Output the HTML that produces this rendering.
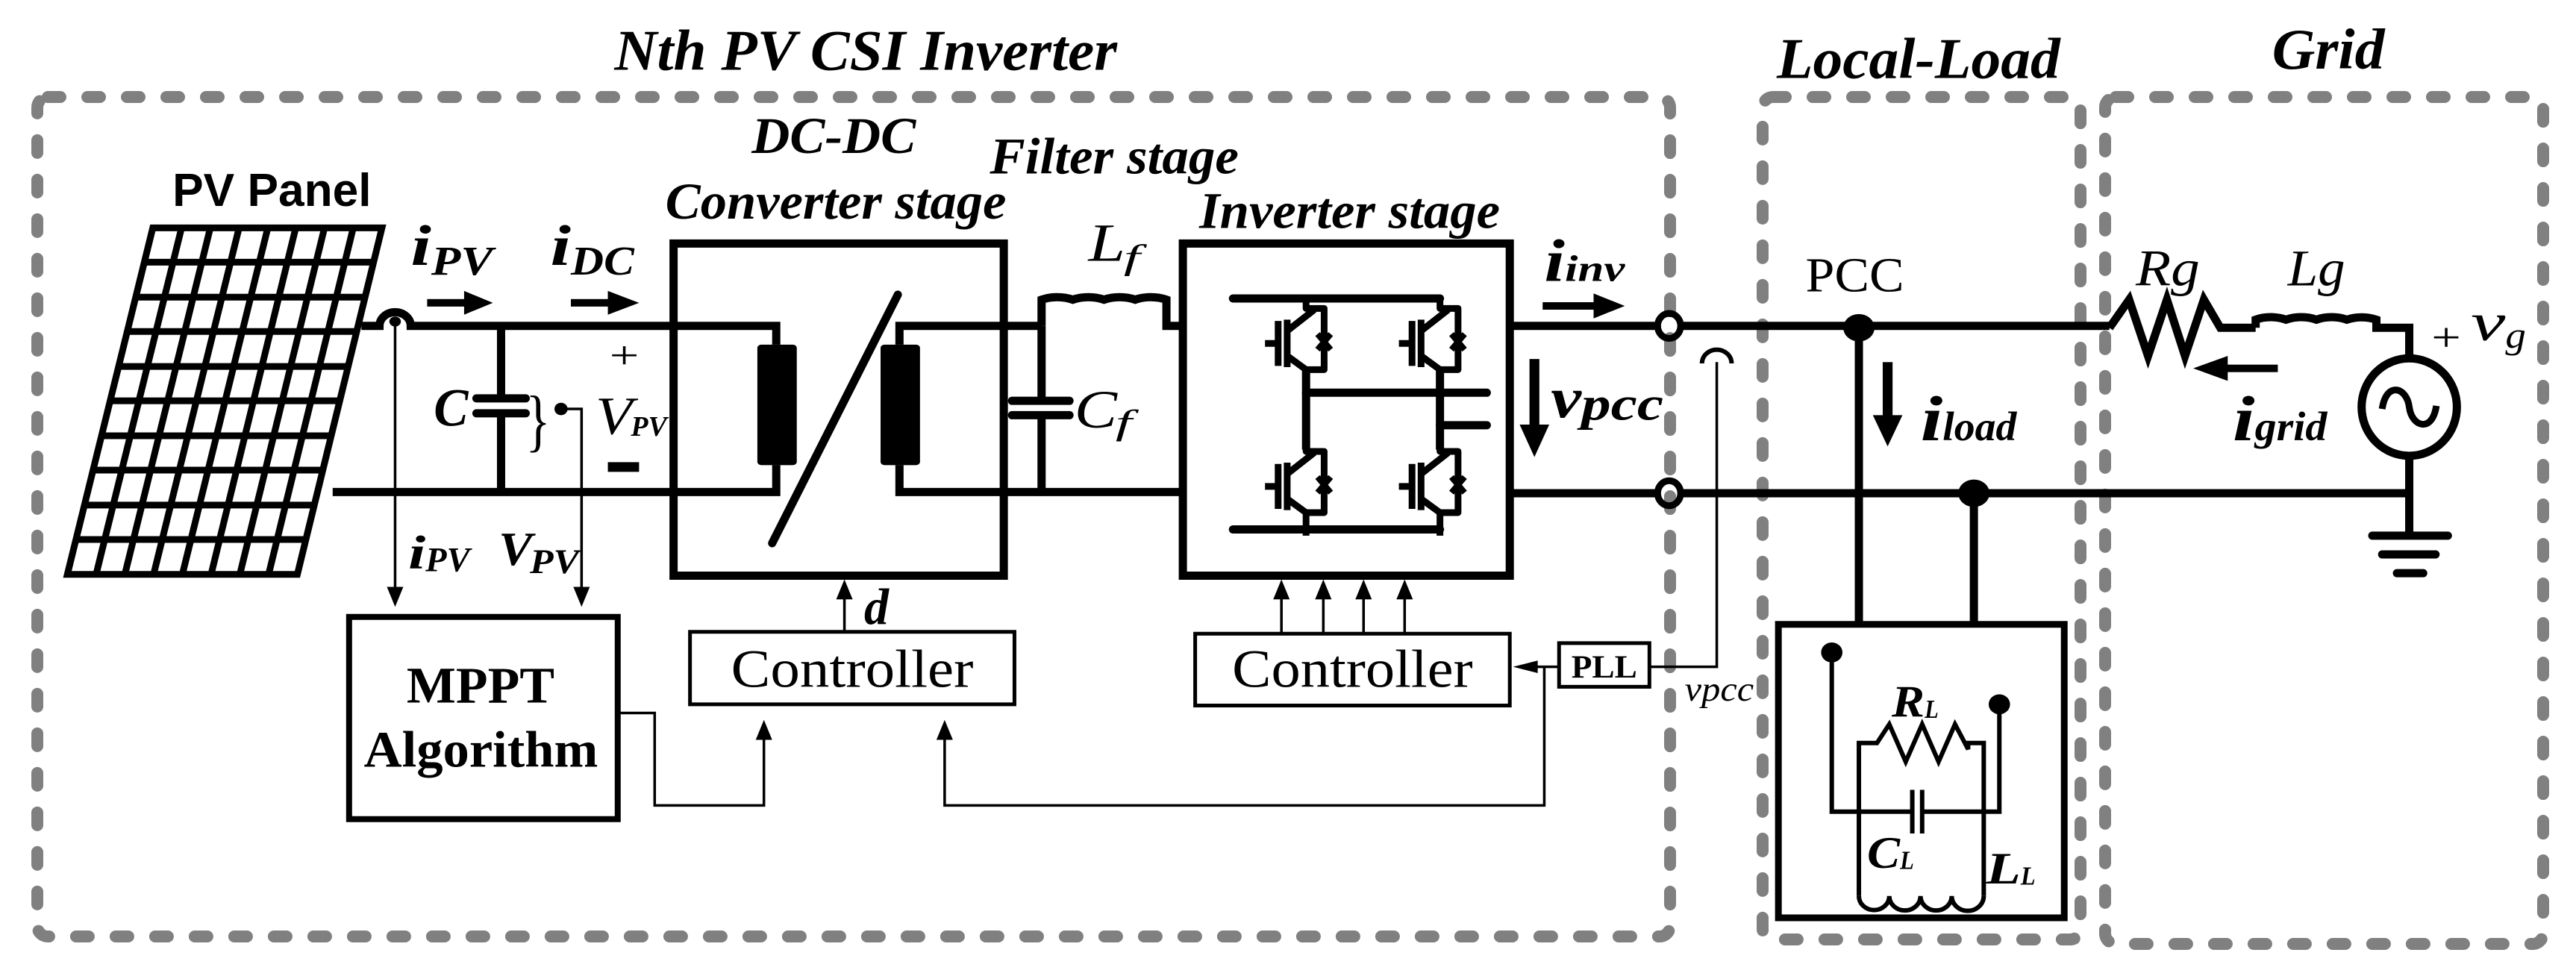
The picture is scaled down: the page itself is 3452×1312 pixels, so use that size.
<!DOCTYPE html>
<html><head><meta charset="utf-8"><style>
html,body{margin:0;padding:0;background:#fff;}
.w{position:relative;width:3452px;height:1312px;overflow:hidden}
svg{position:absolute;left:0;top:0}
.s *{vector-effect:non-scaling-stroke}
text{font-family:"Liberation Serif",serif}
.bi{font-weight:bold;font-style:italic}
.it{font-style:italic}
</style></head><body><div class="w">
<svg width="3452" height="1312" viewBox="0 0 3452 1312">
<g fill="none" stroke="#808080" stroke-width="16" stroke-linecap="round" stroke-dasharray="17 36">
<rect x="50" y="130" width="2188" height="1125" rx="14"/>
<rect x="2362" y="130" width="426" height="1129" rx="14"/>
<rect x="2821" y="130" width="587" height="1135" rx="14"/>
</g>
</svg>
<svg class="s" width="3452" height="1312" viewBox="0 0 3136 1568" preserveAspectRatio="none">
<g fill="none" stroke="#000" stroke-width="11" stroke-linejoin="miter">
<!-- PV panel -->
<g stroke-width="9">
<polygon points="186,365 465,365 362,920 82,920"/>
<line x1="221" y1="365" x2="117" y2="920"/><line x1="256" y1="365" x2="152" y2="920"/>
<line x1="291" y1="365" x2="187" y2="920"/><line x1="326" y1="365" x2="222" y2="920"/>
<line x1="360" y1="365" x2="257" y2="920"/><line x1="395" y1="365" x2="292" y2="920"/>
<line x1="430" y1="365" x2="327" y2="920"/>
<line x1="176" y1="420" x2="455" y2="420"/><line x1="166" y1="476" x2="445" y2="476"/>
<line x1="155" y1="531" x2="434" y2="531"/><line x1="145" y1="587" x2="424" y2="587"/>
<line x1="134" y1="642" x2="414" y2="642"/><line x1="124" y1="698" x2="403" y2="698"/>
<line x1="114" y1="753" x2="393" y2="753"/><line x1="103" y1="809" x2="383" y2="809"/>
<line x1="93" y1="864" x2="372" y2="864"/>
</g>
<!-- DC side wires -->
<path d="M440,522 H462 A19,22 0 0 1 500,522 H945 V552"/>
<path d="M405,788 H945 V745"/>
<line x1="610" y1="522" x2="610" y2="638"/><line x1="610" y1="662" x2="610" y2="788"/>
<line x1="580" y1="638" x2="640" y2="638" stroke-linecap="round"/><line x1="580" y1="662" x2="640" y2="662" stroke-linecap="round"/>
<line x1="740" y1="748" x2="778" y2="748" stroke-width="13"/>
<!-- DC-DC box -->
<rect x="820" y="390" width="402" height="532"/>
<line x1="940" y1="870" x2="1093" y2="472" stroke-linecap="round"/>
<path d="M1095,552 V522 H1268"/>
<path d="M1095,745 V788 H1440"/>
<!-- Lf -->
<path d="M1268,522 V480 A38,30 0 0 1 1306,480 A38,30 0 0 1 1344,480 A38,30 0 0 1 1382,480 A38,30 0 0 1 1420,480 V522 H1440"/>
<line x1="1268" y1="522" x2="1268" y2="642"/><line x1="1268" y1="665" x2="1268" y2="788"/>
<line x1="1232" y1="642" x2="1302" y2="642" stroke-linecap="round"/><line x1="1232" y1="665" x2="1302" y2="665" stroke-linecap="round"/>
<!-- inverter box -->
<rect x="1440" y="390" width="398" height="532"/>
<line x1="1501" y1="478" x2="1753" y2="478" stroke-linecap="round"/>
<line x1="1501" y1="848" x2="1753" y2="848" stroke-linecap="round"/>
<line x1="1590" y1="629" x2="1810" y2="629" stroke-linecap="round"/>
<line x1="1753" y1="681" x2="1810" y2="681" stroke-linecap="round"/>
<line x1="1590" y1="590" x2="1590" y2="720"/>
<line x1="1753" y1="590" x2="1753" y2="720"/>
<!-- output wires -->
<path d="M1838,522 H2017"/><path d="M2047,522 H2568"/>
<path d="M1838,790 H2017"/><path d="M2047,790 H2933"/>
<ellipse cx="2032" cy="522" rx="14" ry="20" stroke-width="9"/>
<ellipse cx="2032" cy="790" rx="14" ry="20" stroke-width="9"/>
<path d="M2263,525 V1000"/><path d="M2403,790 V1000"/>
<rect x="2165" y="1000" width="348" height="470" stroke-width="9"/>
<!-- grid -->
<path d="M2568,525 L2592,480 L2615,570 L2638,480 L2660,570 L2683,480 L2703,525 H2746"/>
<path d="M2746,525 V512 A37,30 0 0 1 2783,512 A37,30 0 0 1 2820,512 A37,30 0 0 1 2857,512 A37,30 0 0 1 2893,512 V525 H2933 V575"/>
<ellipse cx="2933" cy="652" rx="58" ry="78"/>
<path d="M2900,655 C2905,610 2930,620 2933,652 C2936,684 2961,694 2966,650" stroke-width="9"/>
<path d="M2933,730 V858"/>
<line x1="2888" y1="858" x2="2980" y2="858" stroke-linecap="round"/>
<line x1="2900" y1="888" x2="2965" y2="888" stroke-linecap="round"/>
<line x1="2918" y1="918" x2="2950" y2="918" stroke-linecap="round"/>
<!-- thin lines -->
<g stroke-width="3.5">
<path d="M481,522 V955"/>
<path d="M683,655 H708 V955"/>
<path d="M752,1142 H797 V1290 H930 V1170"/>
<path d="M1028,1012 V945"/>
<path d="M1560,1015 V945"/><path d="M1611,1015 V945"/><path d="M1660,1015 V945"/><path d="M1710,1015 V945"/>
<path d="M1898,1068 H1860"/>
<path d="M1880,1068 V1290 H1150 V1170"/>
<path d="M2008,1068 H2090 V580"/>
<path d="M2072,582 A18,22 0 0 1 2108,582" stroke-width="6"/>
<rect x="840" y="1012" width="395" height="116" stroke-width="5"/>
<rect x="1455" y="1015" width="383" height="115" stroke-width="5"/>
<rect x="1898" y="1030" width="110" height="70" stroke-width="5"/>
<rect x="425" y="988" width="327" height="324" stroke-width="8"/>
</g>
<g stroke-width="6">
<path d="M2230,1045 V1300 H2328"/><path d="M2340,1300 H2434 V1128"/>
<line x1="2328" y1="1265" x2="2328" y2="1335"/><line x1="2340" y1="1265" x2="2340" y2="1335"/>
<path d="M2263,1435 V1190 H2285 L2300,1160 L2320,1220 L2340,1160 L2360,1220 L2380,1160 L2396,1200 V1190 H2415 V1435"/>
<path d="M2263,1435 A18,22 0 0 0 2300,1435 A18,22 0 0 0 2338,1435 A18,22 0 0 0 2376,1435 A18,22 0 0 0 2415,1435"/>
</g>
</g>
<!-- switches -->
<g fill="none" stroke="#000" stroke-width="9" stroke-linejoin="round">
<g id="sw">
<path d="M1590,478 V494 H1612 V592 H1590 V629"/>
<path d="M1540,550 H1556 M1556,514 V586 M1567,512 V588 M1567,530 L1600,496 M1567,570 L1590,592"/>
<path d="M1604,535 L1620,560 M1620,535 L1604,560" stroke-width="8"/>
</g>
<use href="#sw" transform="translate(163,0)"/>
<use href="#sw" transform="translate(0,229)"/>
<use href="#sw" transform="translate(163,229)"/>
</g>
<!-- dots -->
<g fill="#000">
<rect x="922" y="552" width="48" height="193" rx="5"/>
<rect x="1072" y="552" width="48" height="193" rx="5"/>
<ellipse cx="481" cy="515" rx="7" ry="8"/>
<ellipse cx="683" cy="655" rx="8" ry="10"/>
<ellipse cx="2263" cy="525" rx="19" ry="22"/>
<ellipse cx="2403" cy="790" rx="19" ry="22"/>
<ellipse cx="2230" cy="1045" rx="13" ry="16"/>
<ellipse cx="2434" cy="1128" rx="13" ry="16"/>
<!-- big arrows -->
<rect x="520" y="479" width="50" height="12"/><polygon points="565,466 600,485 565,504"/>
<rect x="695" y="479" width="50" height="12"/><polygon points="740,466 778,485 740,504"/>
<rect x="1878" y="484" width="70" height="12"/><polygon points="1940,470 1978,490 1940,510"/>
<rect x="1862" y="575" width="12" height="110"/><polygon points="1850,680 1868,732 1886,680"/>
<rect x="2292" y="580" width="12" height="90"/><polygon points="2280,665 2298,715 2316,665"/>
<rect x="2710" y="584" width="63" height="12"/><polygon points="2712,570 2670,590 2712,610"/>
<!-- thin arrowheads -->
<polygon points="471,940 491,940 481,972"/>
<polygon points="698,940 718,940 708,972"/>
<polygon points="920,1185 940,1185 930,1153"/>
<polygon points="1140,1185 1160,1185 1150,1153"/>
<polygon points="1018,960 1038,960 1028,928"/>
<polygon points="1550,960 1570,960 1560,928"/><polygon points="1601,960 1621,960 1611,928"/>
<polygon points="1650,960 1670,960 1660,928"/><polygon points="1700,960 1720,960 1710,928"/>
<polygon points="1872,1058 1872,1078 1842,1068"/>
</g>
<!-- text -->
<g fill="#000">
<text class="bi" x="748" y="112" font-size="92" textLength="612" lengthAdjust="spacingAndGlyphs">Nth PV CSI Inverter</text>
<text class="bi" x="2163" y="125" font-size="92" textLength="345" lengthAdjust="spacingAndGlyphs">Local-Load</text>
<text class="bi" x="2766" y="110" font-size="92" textLength="137" lengthAdjust="spacingAndGlyphs">Grid</text>
<text x="210" y="330" font-size="74" font-weight="bold" style="font-family:'Liberation Sans',sans-serif" textLength="242" lengthAdjust="spacingAndGlyphs">PV Panel</text>
<text class="bi" x="915" y="245" font-size="82" textLength="200" lengthAdjust="spacingAndGlyphs">DC-DC</text>
<text class="bi" x="810" y="350" font-size="82" textLength="415" lengthAdjust="spacingAndGlyphs">Converter stage</text>
<text class="bi" x="1205" y="278" font-size="82" textLength="303" lengthAdjust="spacingAndGlyphs">Filter stage</text>
<text class="bi" x="1460" y="365" font-size="82" textLength="366" lengthAdjust="spacingAndGlyphs">Inverter stage</text>
<text x="495" y="1125" font-size="82" font-weight="bold" textLength="180" lengthAdjust="spacingAndGlyphs">MPPT</text>
<text x="443" y="1228" font-size="82" font-weight="bold" textLength="285" lengthAdjust="spacingAndGlyphs">Algorithm</text>
<text x="890" y="1100" font-size="86" textLength="295" lengthAdjust="spacingAndGlyphs">Controller</text>
<text x="1500" y="1100" font-size="86" textLength="293" lengthAdjust="spacingAndGlyphs">Controller</text>
<text x="1913" y="1085" font-size="52" font-weight="bold" textLength="80" lengthAdjust="spacingAndGlyphs">PLL</text>
<text x="2198" y="467" font-size="78" textLength="120" lengthAdjust="spacingAndGlyphs">PCC</text>
<text class="it" x="2600" y="457" font-size="82" textLength="78" lengthAdjust="spacingAndGlyphs">Rg</text>
<text class="it" x="2785" y="457" font-size="82" textLength="70" lengthAdjust="spacingAndGlyphs">Lg</text>
<text class="bi" x="500" y="425" font-size="92" textLength="25" lengthAdjust="spacingAndGlyphs">i</text>
<text class="bi" x="525" y="440" font-size="66" textLength="75" lengthAdjust="spacingAndGlyphs">PV</text>
<text class="bi" x="670" y="425" font-size="92" textLength="25" lengthAdjust="spacingAndGlyphs">i</text>
<text class="bi" x="695" y="440" font-size="66" textLength="77" lengthAdjust="spacingAndGlyphs">DC</text>
<text class="bi" x="528" y="682" font-size="86" textLength="42" lengthAdjust="spacingAndGlyphs">C</text>
<text x="640" y="710" font-size="110" textLength="30" lengthAdjust="spacingAndGlyphs">}</text>
<text x="742" y="590" font-size="62" textLength="36" lengthAdjust="spacingAndGlyphs">+</text>
<text class="it" x="725" y="695" font-size="86" textLength="45" lengthAdjust="spacingAndGlyphs">V</text>
<text class="bi" x="768" y="698" font-size="46" textLength="44" lengthAdjust="spacingAndGlyphs">PV</text>
<text class="bi" x="497" y="910" font-size="76" textLength="21" lengthAdjust="spacingAndGlyphs">i</text>
<text class="bi" x="518" y="915" font-size="56" textLength="54" lengthAdjust="spacingAndGlyphs">PV</text>
<text class="bi" x="607" y="905" font-size="76" textLength="41" lengthAdjust="spacingAndGlyphs">V</text>
<text class="bi" x="645" y="918" font-size="56" textLength="60" lengthAdjust="spacingAndGlyphs">PV</text>
<text class="it" x="1325" y="418" font-size="86" textLength="45" lengthAdjust="spacingAndGlyphs">L</text>
<text class="it" x="1368" y="430" font-size="56" textLength="20" lengthAdjust="spacingAndGlyphs">f</text>
<text class="it" x="1308" y="685" font-size="86" textLength="52" lengthAdjust="spacingAndGlyphs">C</text>
<text class="it" x="1358" y="695" font-size="56" textLength="20" lengthAdjust="spacingAndGlyphs">f</text>
<text class="bi" x="1052" y="1000" font-size="82" textLength="30" lengthAdjust="spacingAndGlyphs">d</text>
<text class="bi" x="1880" y="450" font-size="96" textLength="25" lengthAdjust="spacingAndGlyphs">i</text>
<text class="bi" x="1905" y="450" font-size="60" textLength="73" lengthAdjust="spacingAndGlyphs">inv</text>
<text class="bi" x="1888" y="668" font-size="92" textLength="37" lengthAdjust="spacingAndGlyphs">v</text>
<text class="bi" x="1925" y="672" font-size="76" textLength="100" lengthAdjust="spacingAndGlyphs">pcc</text>
<text class="it" x="2051" y="1122" font-size="56" textLength="84" lengthAdjust="spacingAndGlyphs">vpcc</text>
<text class="bi" x="2338" y="705" font-size="102" textLength="27" lengthAdjust="spacingAndGlyphs">i</text>
<text class="bi" x="2365" y="705" font-size="66" textLength="90" lengthAdjust="spacingAndGlyphs">load</text>
<text class="bi" x="2718" y="705" font-size="102" textLength="27" lengthAdjust="spacingAndGlyphs">i</text>
<text class="bi" x="2745" y="705" font-size="66" textLength="88" lengthAdjust="spacingAndGlyphs">grid</text>
<text x="2960" y="562" font-size="64" textLength="36" lengthAdjust="spacingAndGlyphs">+</text>
<text class="it" x="3008" y="545" font-size="86" textLength="42" lengthAdjust="spacingAndGlyphs">v</text>
<text class="it" x="3050" y="557" font-size="60" textLength="25" lengthAdjust="spacingAndGlyphs">g</text>
<text class="bi" x="2303" y="1148" font-size="72" textLength="40" lengthAdjust="spacingAndGlyphs">R</text>
<text class="bi" x="2343" y="1150" font-size="42" textLength="17" lengthAdjust="spacingAndGlyphs">L</text>
<text class="bi" x="2273" y="1390" font-size="72" textLength="40" lengthAdjust="spacingAndGlyphs">C</text>
<text class="bi" x="2313" y="1392" font-size="42" textLength="17" lengthAdjust="spacingAndGlyphs">L</text>
<text class="bi" x="2418" y="1415" font-size="72" textLength="42" lengthAdjust="spacingAndGlyphs">L</text>
<text class="bi" x="2460" y="1417" font-size="42" textLength="18" lengthAdjust="spacingAndGlyphs">L</text>
</g>
</svg>
</div></body></html>
